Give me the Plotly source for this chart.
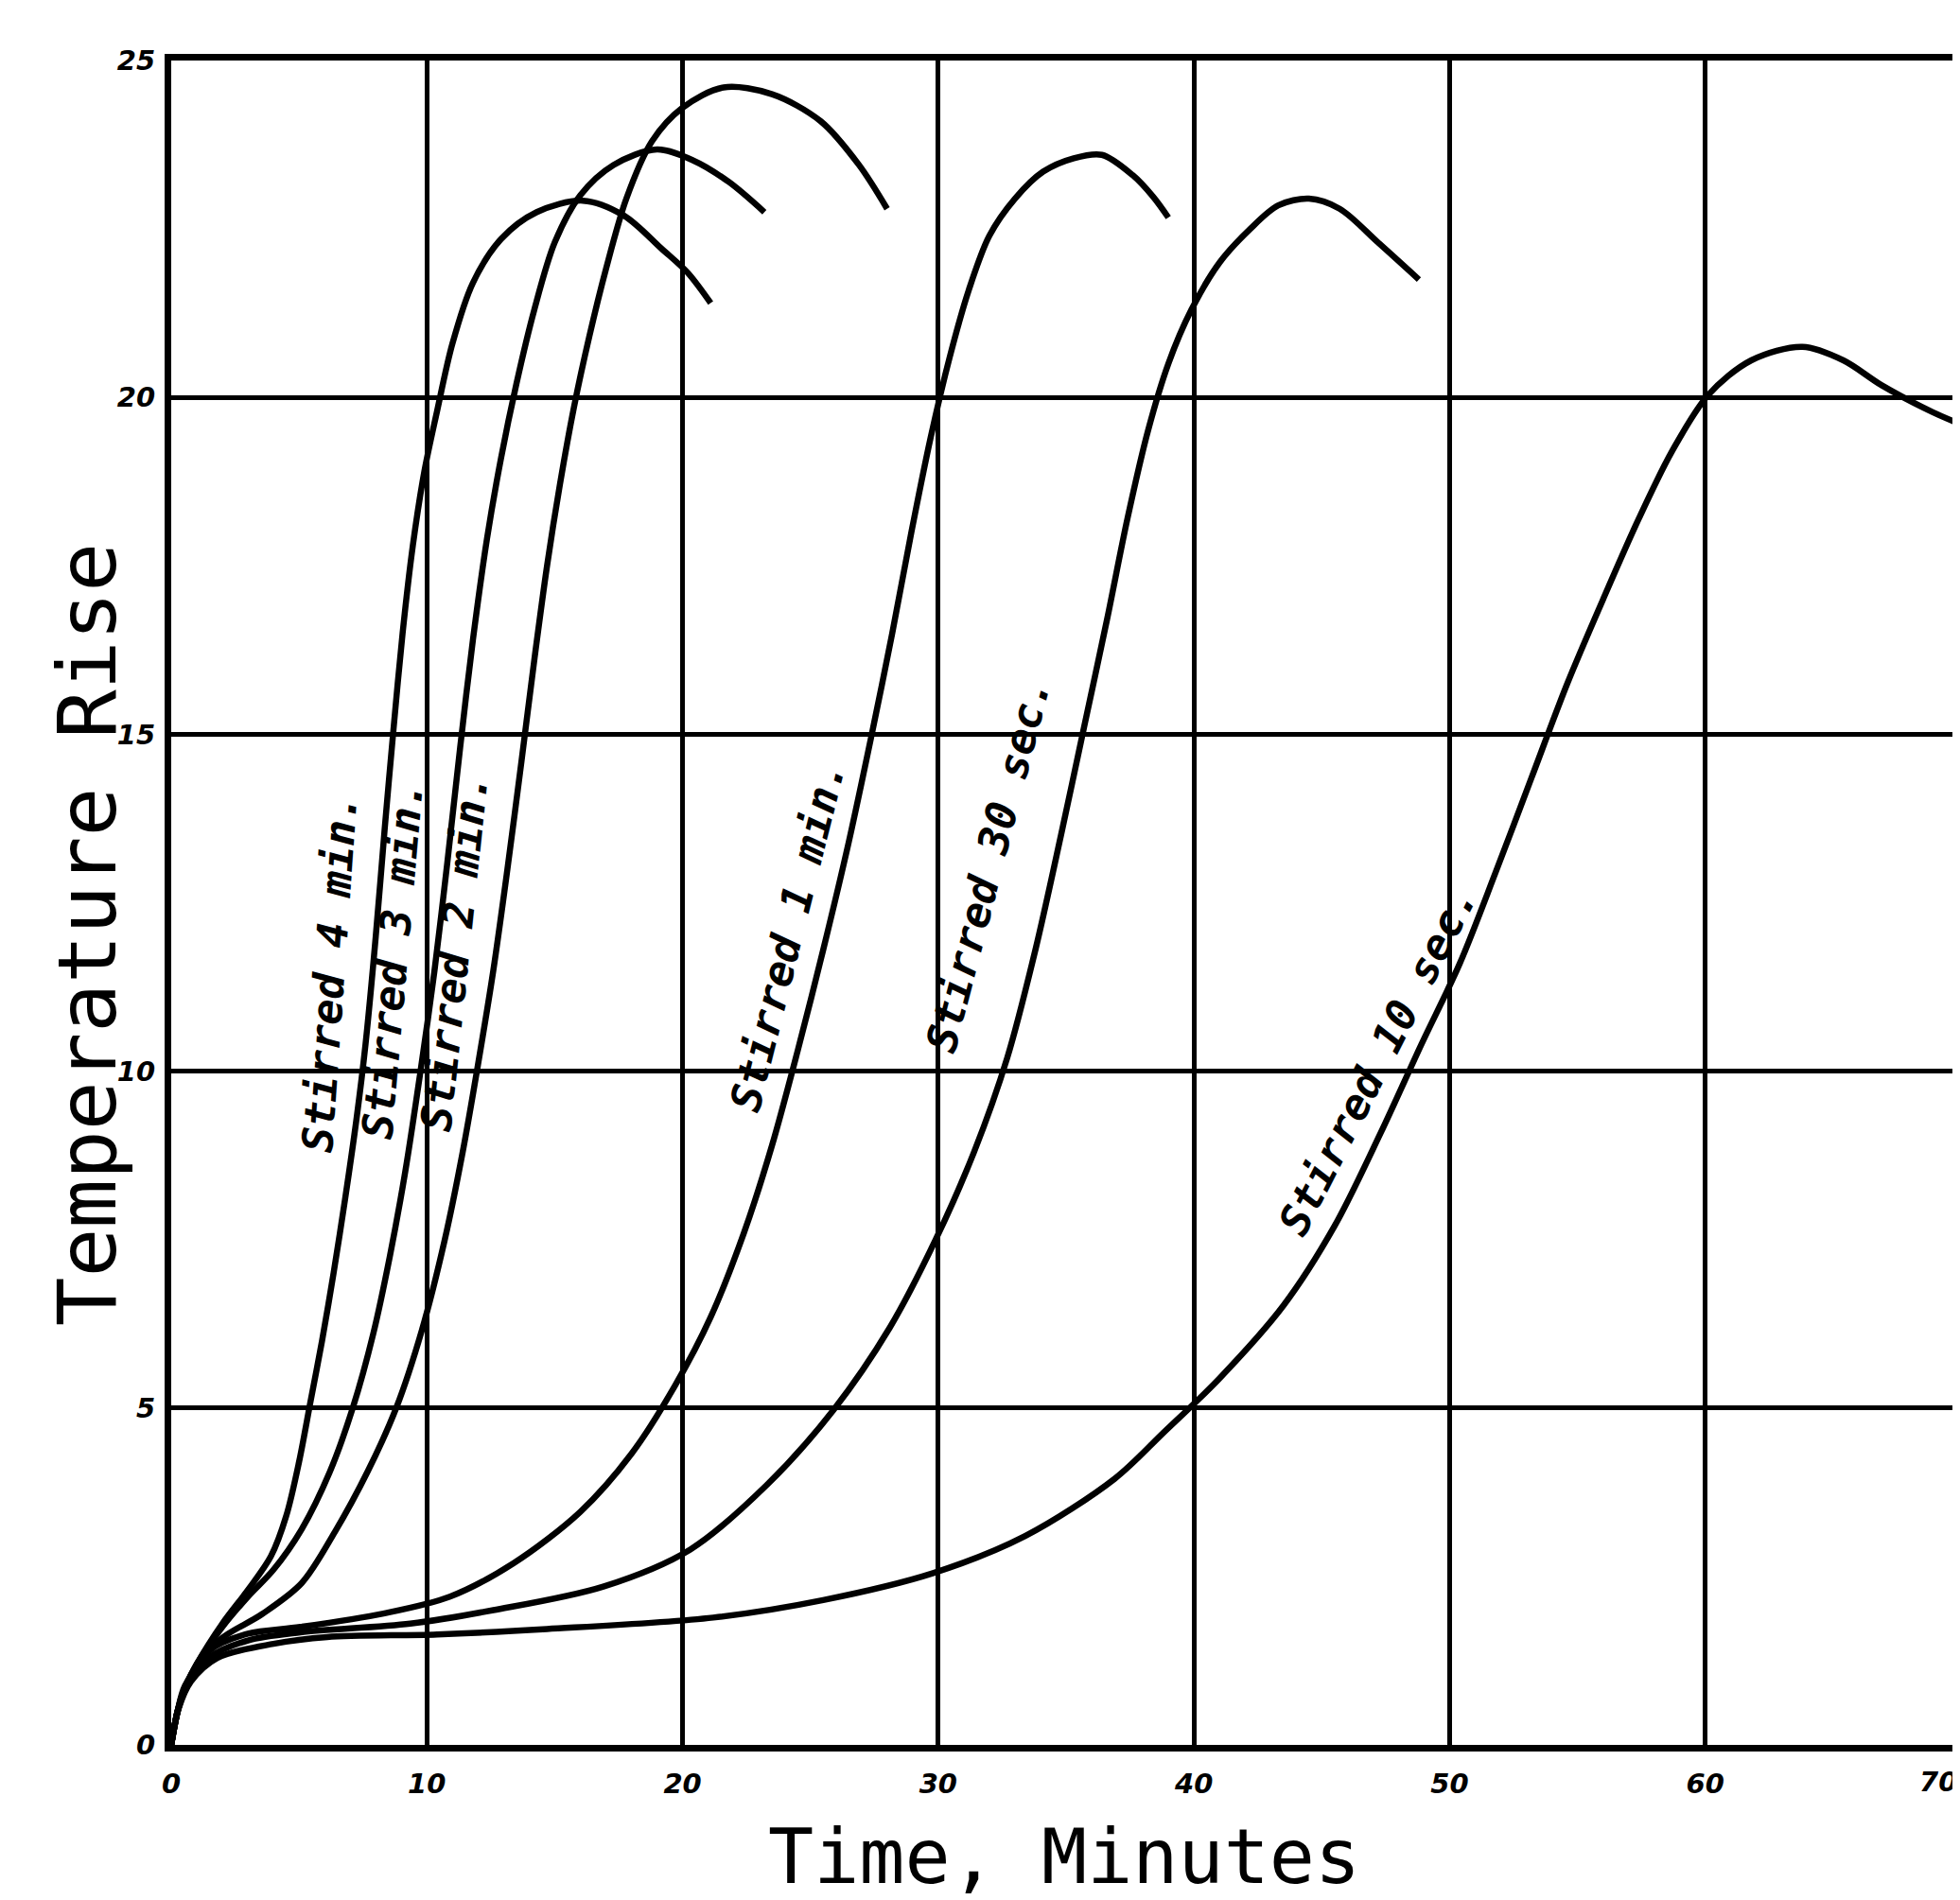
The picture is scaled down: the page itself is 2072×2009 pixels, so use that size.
import plotly.graph_objects as go

# ---- data ----
x_ticks = [0, 10, 20, 30, 40, 50, 60, 70]
y_ticks = [0, 5, 10, 15, 20, 25]

t_4min = [0, 0.25, 0.6, 1.0, 2.0, 3.0, 3.9, 4.5, 5.0, 5.45, 5.9, 6.35, 6.8, 7.25, 7.6, 8.0, 8.35, 8.7, 9.05, 9.45, 9.9, 10.4, 11.0, 11.8, 12.9, 14.3, 16.1, 17.7, 19.2, 20.2, 21.1]
y_4min = [0, 0.5, 0.9, 1.2, 1.8, 2.3, 2.8, 3.4, 4.2, 5.1, 6.0, 7.0, 8.1, 9.3, 10.4, 12.0, 13.6, 15.1, 16.5, 17.8, 18.9, 19.8, 20.8, 21.7, 22.35, 22.75, 22.92, 22.7, 22.2, 21.85, 21.4]

t_3min = [0, 0.25, 0.6, 1.0, 2.0, 3.0, 4.0, 5.1, 6.2, 7.1, 7.9, 8.55, 9.15, 9.75, 10.3, 10.8, 11.3, 11.8, 12.35, 12.9, 13.5, 14.2, 15.0, 16.0, 17.3, 19.0, 20.4, 21.8, 23.2]
y_3min = [0, 0.5, 0.9, 1.2, 1.75, 2.2, 2.6, 3.2, 4.05, 5.0, 6.1, 7.25, 8.5, 10.0, 11.5, 13.1, 14.8, 16.4, 17.9, 19.1, 20.2, 21.3, 22.3, 23.0, 23.45, 23.68, 23.52, 23.2, 22.75]

t_2min = [0, 0.25, 0.54, 1.83, 3.55, 5.1, 6.4, 7.7, 8.8, 9.8, 10.7, 11.4, 12.0, 12.6, 13.15, 13.7, 14.2, 14.7, 15.2, 15.75, 16.35, 17.0, 17.8, 18.8, 20.0, 21.6, 23.5, 25.4, 26.9, 28.0]
y_2min = [0, 0.5, 0.88, 1.54, 1.94, 2.4, 3.16, 4.07, 5.0, 6.15, 7.5, 8.8, 10.1, 11.5, 13.0, 14.6, 16.1, 17.5, 18.7, 19.85, 20.9, 21.9, 22.95, 23.8, 24.3, 24.6, 24.5, 24.1, 23.45, 22.8]

t_1min = [0, 0.25, 0.5, 1.5, 3.0, 5.05, 8.3, 10.9, 13.4, 16.0, 18.0, 19.7, 21.1, 22.4, 23.5, 24.5, 25.5, 26.5, 27.4, 28.2, 28.95, 29.7, 30.45, 31.2, 32.0, 33.0, 34.1, 35.3, 36.4, 37.6, 38.4, 39.0]
y_1min = [0, 0.5, 0.8, 1.4, 1.65, 1.75, 1.95, 2.2, 2.7, 3.46, 4.32, 5.33, 6.35, 7.6, 8.9, 10.3, 11.8, 13.4, 15.0, 16.5, 18.0, 19.4, 20.6, 21.6, 22.4, 22.95, 23.35, 23.55, 23.6, 23.3, 22.98, 22.67]

t_30sec = [0, 0.25, 0.5, 1.5, 3.0, 5.05, 9.35, 12.6, 16.9, 20.3, 23.3, 25.9, 28.1, 29.9, 31.4, 32.7, 33.8, 34.8, 35.7, 36.6, 37.4, 38.2, 39.0, 39.9, 41.0, 42.2, 43.3, 44.5, 45.7, 47.2, 48.8]
y_30sec = [0, 0.5, 0.8, 1.3, 1.55, 1.67, 1.8, 2.0, 2.35, 2.9, 3.86, 4.97, 6.19, 7.5, 8.8, 10.2, 11.8, 13.5, 15.1, 16.7, 18.2, 19.5, 20.5, 21.3, 22.0, 22.5, 22.85, 22.95, 22.8, 22.3, 21.75]

t_10sec = [0, 0.3, 0.75, 1.8, 4.0, 6.1, 10.4, 14.7, 21.2, 25.5, 29.8, 33.4, 36.9, 38.8, 41.0, 43.5, 45.5, 47.3, 48.9, 50.4, 51.8, 53.2, 54.6, 56.0, 57.4, 58.7, 60.1, 61.8, 63.8, 65.4, 66.9, 68.9, 70.0]
y_10sec = [0, 0.55, 0.93, 1.29, 1.5, 1.6, 1.64, 1.72, 1.89, 2.15, 2.55, 3.1, 3.95, 4.63, 5.44, 6.52, 7.7, 9.08, 10.4, 11.6, 12.95, 14.35, 15.75, 17.0, 18.2, 19.2, 20.03, 20.55, 20.75, 20.55, 20.18, 19.78, 19.6]

series_names = ["Stirred 4 min.", "Stirred 3 min.", "Stirred 2 min.",
                "Stirred 1 min.", "Stirred 30 sec.", "Stirred 10 sec."]
series_t = [t_4min, t_3min, t_2min, t_1min, t_30sec, t_10sec]
series_y = [y_4min, y_3min, y_2min, y_1min, y_30sec, y_10sec]

x_title = "Time, Minutes"
y_title = "Temperature Rise"

# ---- label placement (layout, not data) ----
label_pos = [(6.2, 11.45, -86), (8.65, 11.65, -85), (11.1, 11.75, -84),
             (24.1, 12.0, -76), (31.95, 13.05, -75.5), (47.2, 10.15, -63)]

fig = go.Figure()
for name, t, y in zip(series_names, series_t, series_y):
    fig.add_trace(go.Scatter(x=t, y=y, mode="lines", name=name,
                             line=dict(color="black", width=6.5, shape="spline", smoothing=0.9),
                             hoverinfo="skip"))

label_font = dict(family="DejaVu Sans Mono", size=45, color="black", weight="bold", style="italic")
for name, (lx, ly, ang) in zip(series_names, label_pos):
    fig.add_annotation(x=lx, y=ly, xref="x", yref="y", text=name, showarrow=False,
                       textangle=ang, font=label_font)

tick_font = dict(family="DejaVu Sans", size=29, color="black", weight="bold", style="italic")

fig.update_xaxes(range=[0, 70], tickvals=x_ticks[:-1], ticktext=[str(v) for v in x_ticks[:-1]],
                 showgrid=True, gridcolor="black", gridwidth=5,
                 showline=True, linecolor="black", linewidth=7, mirror=True,
                 zeroline=False, ticks="", tickfont=tick_font, ticklabelstandoff=9)
fig.update_yaxes(range=[0, 25], tickvals=y_ticks, ticktext=[str(v) for v in y_ticks],
                 showgrid=True, gridcolor="black", gridwidth=5,
                 showline=True, linecolor="black", linewidth=7, mirror=True,
                 zeroline=False, ticks="", tickfont=tick_font, ticklabelstandoff=4)

# last x tick label, tucked against the right edge as in the reference
fig.add_annotation(x=1.0, y=0, xref="paper", yref="paper", text=str(x_ticks[-1]),
                   showarrow=False, xanchor="right", yanchor="top", xshift=-2, yshift=-20,
                   font=tick_font)

title_font = dict(family="DejaVu Sans Mono", size=80, color="black")
fig.add_annotation(x=(1120 - 173) / 1899, y=-(1955 - 1837) / 1781, xref="paper", yref="paper",
                   text=x_title, showarrow=False, font=title_font,
                   xanchor="center", yanchor="middle")
fig.add_annotation(x=-(173 - 84) / 1899, y=(1837 - 980) / 1781, xref="paper", yref="paper",
                   text=y_title, showarrow=False,
                   font=dict(family="DejaVu Sans Mono", size=86, color="black"),
                   textangle=-90, xanchor="center", yanchor="middle")

fig.update_layout(width=2072, height=2009, margin=dict(l=173, r=0, t=56, b=172),
                  plot_bgcolor="white", paper_bgcolor="white", showlegend=False)

fig.write_html("out.html")
